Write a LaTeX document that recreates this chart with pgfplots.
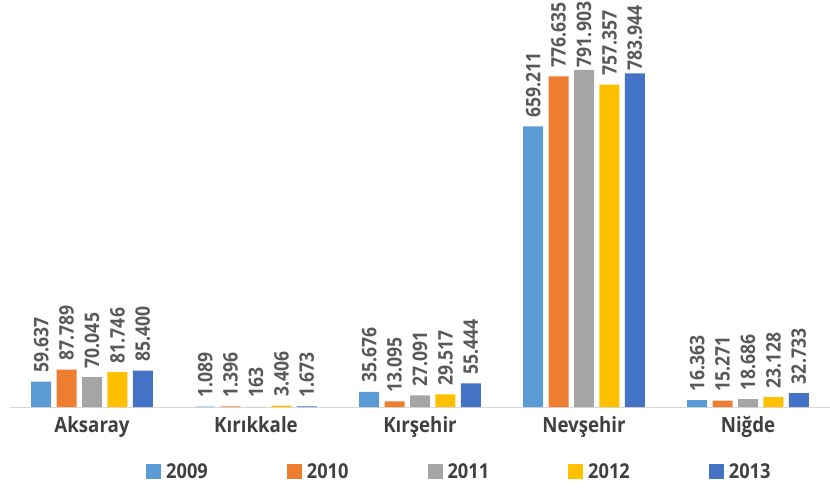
\documentclass[border=0pt]{standalone}
\usepackage{pgfplots}
\pgfplotsset{compat=1.18}
\usepackage{fontspec}
\setmainfont{Open Sans}
\definecolor{c09}{HTML}{5B9BD5}
\definecolor{c10}{HTML}{ED7D31}
\definecolor{c11}{HTML}{A5A5A5}
\definecolor{c12}{HTML}{FFC000}
\definecolor{c13}{HTML}{4472C4}
\definecolor{lbl}{HTML}{595959}
\definecolor{cat}{HTML}{404040}
\newcommand{\sq}[1]{\scalebox{0.89}[1]{#1}}
\begin{document}
\begin{tikzpicture}
\path[use as bounding box] (0,0) rectangle (830pt,490pt);
\begin{axis}[
  at={(10pt,83pt)}, anchor=south west,
  scale only axis, width=820pt, height=383pt,
  ybar=5.4pt, bar width=20pt,
  xmin=-0.5, xmax=4.5, ymin=0, ymax=900000,
  axis y line=none, axis x line*=bottom,
  x axis line style={draw=black!15, line width=1pt, -},
  xtick={0,1,2,3,4},
  xticklabels={\sq{Aksaray},\sq{Kırıkkale},\sq{Kırşehir},\sq{Nevşehir},\sq{Niğde}},
  major tick length=0pt,
  xticklabel style={font=\fontsize{21}{22}\selectfont\bfseries, text=cat, yshift=-6pt},
  clip=false,
  point meta=explicit symbolic,
  nodes near coords={\scalebox{0.88}[1]{\pgfplotspointmeta}},
  every node near coord/.append style={rotate=90, anchor=west, inner xsep=9pt, inner ysep=0pt, outer sep=0pt, font=\fontsize{20}{21}\selectfont\bfseries, text=lbl},
  legend columns=5,
  legend style={at={(0.1659,-0.168)}, anchor=west, draw=none, fill=none, inner sep=0pt,
    font=\fontsize{20.5}{21}\selectfont\bfseries, text=cat,
    nodes={inner sep=0pt},
    /tikz/every even column/.append style={column sep=79pt}},
  legend image code/.code={\path (0pt,0pt) -- (20pt,0pt); \fill[#1, draw=none] (0pt,-7.5pt) rectangle (15pt,7.5pt);},
]
\addplot[fill=c09, draw=none] coordinates {(0,59637)[59.637] (1,1089)[1.089] (2,35676)[35.676] (3,659211)[659.211] (4,16363)[16.363]};
\addplot[fill=c10, draw=none] coordinates {(0,87789)[87.789] (1,1396)[1.396] (2,13095)[13.095] (3,776635)[776.635] (4,15271)[15.271]};
\addplot[fill=c11, draw=none] coordinates {(0,70045)[70.045] (1,163)[163] (2,27091)[27.091] (3,791903)[\hspace*{-7pt}791.903] (4,18686)[18.686]};
\addplot[fill=c12, draw=none] coordinates {(0,81746)[81.746] (1,3406)[3.406] (2,29517)[29.517] (3,757357)[757.357] (4,23128)[23.128]};
\addplot[fill=c13, draw=none] coordinates {(0,85400)[85.400] (1,1673)[1.673] (2,55444)[55.444] (3,783944)[\hspace*{-7pt}783.944] (4,32733)[32.733]};
\legend{\sq{2009},\sq{2010},\sq{2011},\sq{2012},\sq{2013}}
\end{axis}
\end{tikzpicture}
\end{document}
